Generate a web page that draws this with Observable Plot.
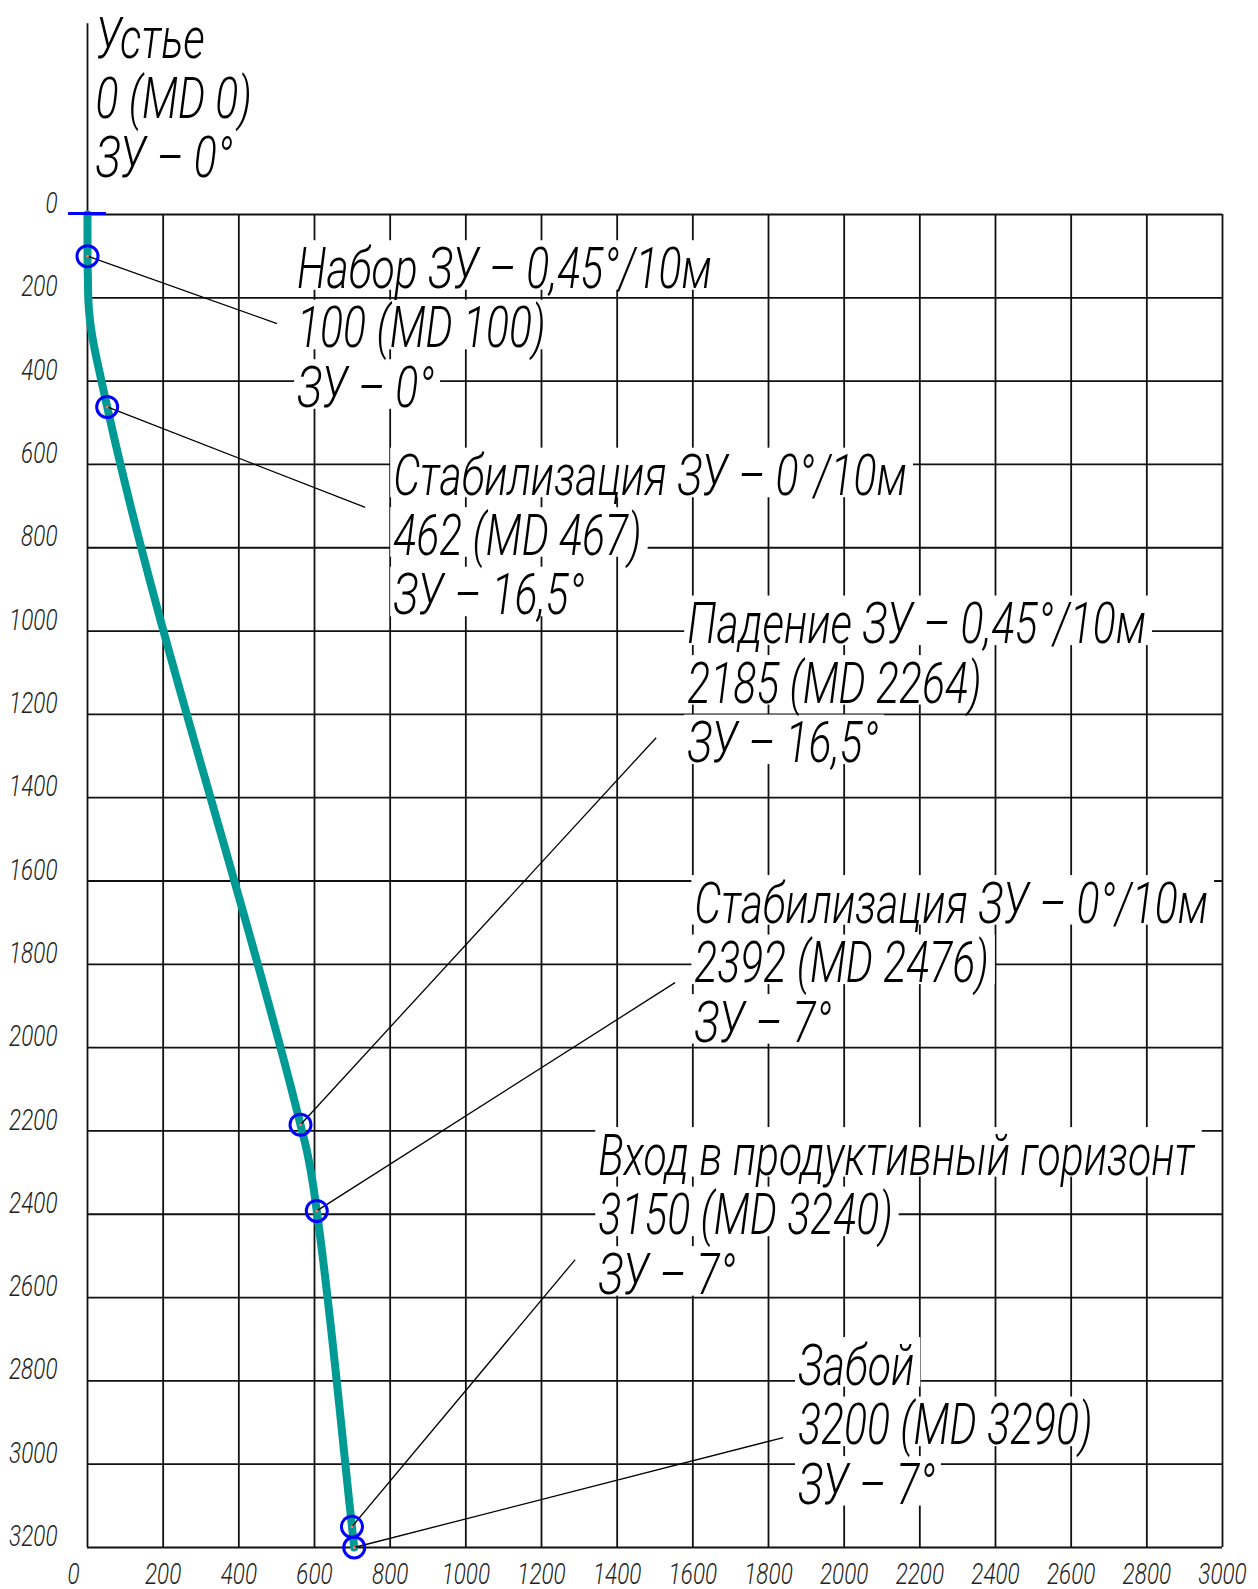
<!DOCTYPE html>
<html><head><meta charset="utf-8">
<script src="https://cdn.jsdelivr.net/npm/d3@7"></script>
<script src="https://cdn.jsdelivr.net/npm/@observablehq/plot@0.6"></script>
<style>html,body{margin:0;padding:0;background:#fff;overflow:hidden}</style>
</head><body><div id="chart"></div>
<script>
// ---- data ----
const xTicks = [0, 200, 400, 600, 800, 1000, 1200, 1400, 1600, 1800, 2000, 2200, 2400, 2600, 2800, 3000];
const yTicks = [0, 200, 400, 600, 800, 1000, 1200, 1400, 1600, 1800, 2000, 2200, 2400, 2600, 2800, 3000, 3200];
// well trajectory: true vertical depth and horizontal displacement (m)
const trajTVD  = [0, 100, 150, 200, 250, 300, 350, 400, 462, 2185, 2240, 2290, 2340, 2392, 3150, 3200];
const trajDisp = [0,   0,   1,   2,   6,  14,  25,  37,  52,  563,  578,  589,  598,  606,  699,  705];
// key points (circles)
const markerTVD  = [100, 462, 2185, 2392, 3150, 3200];
const markerDisp = [0, 52, 563, 606, 699, 705];
// leader line ends (data units)
const leaderEndX = [501, 734, 1503, 1553, 1289, 1839];
const leaderEndY = [262, 703, 1256, 1844, 2509, 2936];
// annotations
const labelTitles = ["Устье", "Набор ЗУ – 0,45°/10м", "Стабилизация ЗУ – 0°/10м", "Падение ЗУ – 0,45°/10м",
                     "Стабилизация ЗУ – 0°/10м", "Вход в продуктивный горизонт", "Забой"];
const labelDepths = ["0 (MD 0)", "100 (MD 100)", "462 (MD 467)", "2185 (MD 2264)", "2392 (MD 2476)", "3150 (MD 3240)", "3200 (MD 3290)"];
const labelAngles = ["ЗУ – 0°", "ЗУ – 0°", "ЗУ – 16,5°", "ЗУ – 16,5°", "ЗУ – 7°", "ЗУ – 7°", "ЗУ – 7°"];
const labelX = [21, 554, 808, 1585, 1604, 1350, 1878];
const labelY = [-477, 75, 573, 928, 1599, 2204, 2708];
const axisTop = -458;       // vertical axis continues above the wellhead
const wellheadHalf = 50;    // half-length of the wellhead mark

// ---- styles ----
const FONT = "Roboto, 'Open Sans', 'DejaVu Sans', sans-serif";
const LABEL_FS = 57, LABEL_LH = 1.044, TICK_FS = 30, SCALE_X = 0.75;

const traj = trajTVD.map((t, i) => ({tvd: t, disp: trajDisp[i]}));
const markers = markerTVD.map((t, i) => ({tvd: t, disp: markerDisp[i]}));
const leaders = markers.map((m, i) => ({x1: m.disp, y1: m.tvd, x2: leaderEndX[i], y2: leaderEndY[i]}));
const labels = labelTitles.map((t, i) => ({x: labelX[i], y: labelY[i], text: [t, labelDepths[i], labelAngles[i]].join("\n")}));
const xMax = xTicks[xTicks.length - 1], yMax = yTicks[yTicks.length - 1];

const chart = Plot.plot({
  width: 1258, height: 1589,
  marginLeft: 87, marginRight: 36, marginTop: 214, marginBottom: 42,
  x: {domain: [0, xMax]},
  y: {domain: [0, yMax], reverse: true},
  style: {fontFamily: FONT, fontStyle: "italic", fontWeight: 300, background: "#fff", color: "#111", overflow: "visible"},
  marks: [
    Plot.ruleX(xTicks, {y1: 0, y2: yMax, stroke: "#111", strokeWidth: 1.8}),
    Plot.ruleY(yTicks, {x1: 0, x2: xMax, stroke: "#111", strokeWidth: 1.8}),
    Plot.ruleX([0], {y1: axisTop, y2: 0, stroke: "#111", strokeWidth: 1.8}),
    Plot.line(traj, {x: "disp", y: "tvd", stroke: "#009a95", strokeWidth: 8, strokeLinejoin: "round", curve: "monotone-y"}),
    Plot.link(leaders, {x1: "x1", y1: "y1", x2: "x2", y2: "y2", stroke: "#000", strokeWidth: 1.3}),
    Plot.ruleY([0], {x1: -wellheadHalf, x2: wellheadHalf, stroke: "#0000ff", strokeWidth: 3, dy: -1}),
    Plot.dot(markers, {x: "disp", y: "tvd", r: 10.5, stroke: "#0000ff", strokeWidth: 3, fill: "none"}),
    Plot.dot(markers, {x: "disp", y: "tvd", r: 1.5, fill: "#ff7070", stroke: "none"}),
    Plot.text(labels, {x: "x", y: "y", text: "text", textAnchor: "start", lineAnchor: "top", lineHeight: LABEL_LH,
      fontSize: LABEL_FS, fontFamily: FONT, fontStyle: "italic", fontWeight: 300, fill: "#000"}),
    Plot.axisX(xTicks.filter(d => d !== 0), {anchor: "bottom", tickSize: 0, tickPadding: 15, fontSize: TICK_FS,
      tickFormat: d => `${d}`, label: null, fill: "#222"}),
    Plot.axisX([0], {anchor: "bottom", tickSize: 0, tickPadding: 15, fontSize: TICK_FS, dx: -14,
      tickFormat: d => `${d}`, label: null, fill: "#222"}),
    Plot.axisY(yTicks, {anchor: "left", tickSize: 0, tickPadding: 30, fontSize: TICK_FS, dy: -11,
      tickFormat: d => `${d}`, label: null, fill: "#222"})
  ]
});
document.getElementById("chart").append(chart);

// narrow the lettering (drafting-style font) around each text anchor
chart.querySelectorAll("text").forEach(t => {
  const tr = t.getAttribute("transform");
  if (tr) t.setAttribute("transform", tr + ` scale(${SCALE_X},1)`);
  else {
    const x = +(t.getAttribute("x") || 0);
    t.setAttribute("transform", `translate(${x},0) scale(${SCALE_X},1) translate(${-x},0)`);
  }
});

// white knock-out boxes behind each annotation row
const lg = chart.querySelector('g[aria-label="text"]');
if (lg) {
  const NS = "http://www.w3.org/2000/svg";
  const bg = document.createElementNS(NS, "g");
  bg.setAttribute("aria-label", "label-backgrounds");
  lg.parentNode.insertBefore(bg, lg);
  const sr = chart.getBoundingClientRect();
  lg.querySelectorAll("text").forEach(t => {
    const m = /translate\(\s*([-\d.e]+)[,\s]+([-\d.e]+)\s*\)/.exec(t.getAttribute("transform") || "");
    const Y = m ? +m[2] : 0;
    const rows = t.querySelectorAll("tspan");
    const els = rows.length ? Array.from(rows) : [t];
    els.forEach((el, i) => {
      const r = el.getBoundingClientRect();
      const capTop = Y + i * LABEL_LH * LABEL_FS;
      const rect = document.createElementNS(NS, "rect");
      rect.setAttribute("x", r.left - sr.left - 3);
      rect.setAttribute("width", r.width + 9);
      rect.setAttribute("y", capTop - 5);
      rect.setAttribute("height", 0.711 * LABEL_FS + 9);
      rect.setAttribute("fill", "#fff");
      bg.appendChild(rect);
    });
  });
}
</script>
</body></html>
